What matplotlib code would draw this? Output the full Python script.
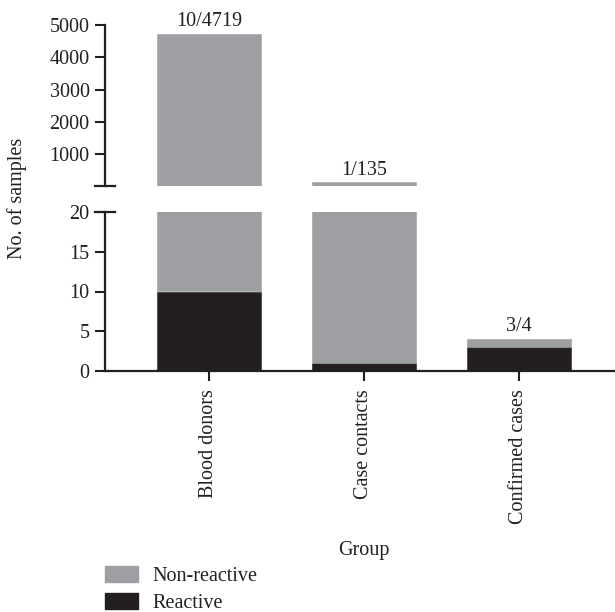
import matplotlib
matplotlib.use('Agg')
import matplotlib.pyplot as plt
from matplotlib.patches import Patch

plt.rcParams['font.family'] = ['Liberation Serif', 'DejaVu Serif']
plt.rcParams['font.size'] = 14.5

groups = ['Blood donors', 'Case contacts', 'Confirmed cases']
reactive = [10, 1, 3]
non_reactive = [4709, 134, 1]
top_ticks = [1000, 2000, 3000, 4000, 5000]
low_ticks = [0, 5, 10, 15, 20]

GREY = '#9e9fa2'
BLACK = '#231f20'
x = list(range(len(groups)))
width = 0.67

fig = plt.figure(figsize=(6.15, 6.12), dpi=100)
ax_top = fig.add_axes([105/615, 1 - 186/612, 1 - 105/615, 161/612])
ax_low = fig.add_axes([105/615, 1 - 371/612, 1 - 105/615, 159/612])

for ax in (ax_top, ax_low):
    ax.bar(x, reactive, width, color=BLACK, edgecolor=BLACK, linewidth=0.4)
    ax.bar(x, non_reactive, width, bottom=reactive, color=GREY,
           edgecolor=GREY, linewidth=0.4)
    ax.set_xlim(-0.67, 2.62)
    ax.spines['top'].set_visible(False)
    ax.spines['right'].set_visible(False)
    ax.spines['left'].set_linewidth(1.6)
    ax.spines['left'].set_color(BLACK)
    ax.tick_params(axis='both', length=7, width=1.5, color=BLACK,
                   labelcolor=BLACK, direction='out', pad=4)

# top segment
ax_top.set_ylim(20, 5000)
ax_top.set_yticks(top_ticks)
ax_top.spines['bottom'].set_visible(False)
ax_top.set_xticks([])
ax_top.plot([-0.02, 0.02], [0, 0], transform=ax_top.transAxes,
            color=BLACK, lw=1.6, clip_on=False)
for i in x:
    total = reactive[i] + non_reactive[i]
    if total > 20:
        ax_top.annotate(f'{reactive[i]}/{total}', (i, total), xytext=(0, 2),
                        textcoords='offset points', ha='center', va='bottom',
                        color=BLACK)

# bottom segment
ax_low.set_ylim(0, 20)
ax_low.set_yticks(low_ticks)
ax_low.spines['bottom'].set_linewidth(1.6)
ax_low.spines['bottom'].set_color(BLACK)
ax_low.set_xticks(x)
ax_low.set_xticklabels(groups, rotation=90)
ax_low.tick_params(axis='x', pad=6)
ax_low.plot([-0.02, 0.02], [1, 1], transform=ax_low.transAxes,
            color=BLACK, lw=1.6, clip_on=False)
for i in x:
    total = reactive[i] + non_reactive[i]
    if total <= 20:
        ax_low.annotate(f'{reactive[i]}/{total}', (i, total), xytext=(0, 2),
                        textcoords='offset points', ha='center', va='bottom',
                        color=BLACK)

fig.text(17/615, 1 - 198/612, 'No. of samples', rotation=90,
         ha='center', va='center', color=BLACK)
fig.text(364/615, 1 - 551/612, 'Group', ha='center', va='center', color=BLACK)

handles = [Patch(color=GREY), Patch(color=BLACK)]
fig.legend(handles, ['Non-reactive', 'Reactive'], loc='upper left',
           bbox_to_anchor=(105/615, 1 - 566/612), frameon=False,
           borderpad=0, borderaxespad=0, handlelength=1.65, handleheight=0.85,
           labelspacing=0.35, handletextpad=0.7, labelcolor=BLACK)

fig.savefig('out.png', dpi=100, facecolor='white')
